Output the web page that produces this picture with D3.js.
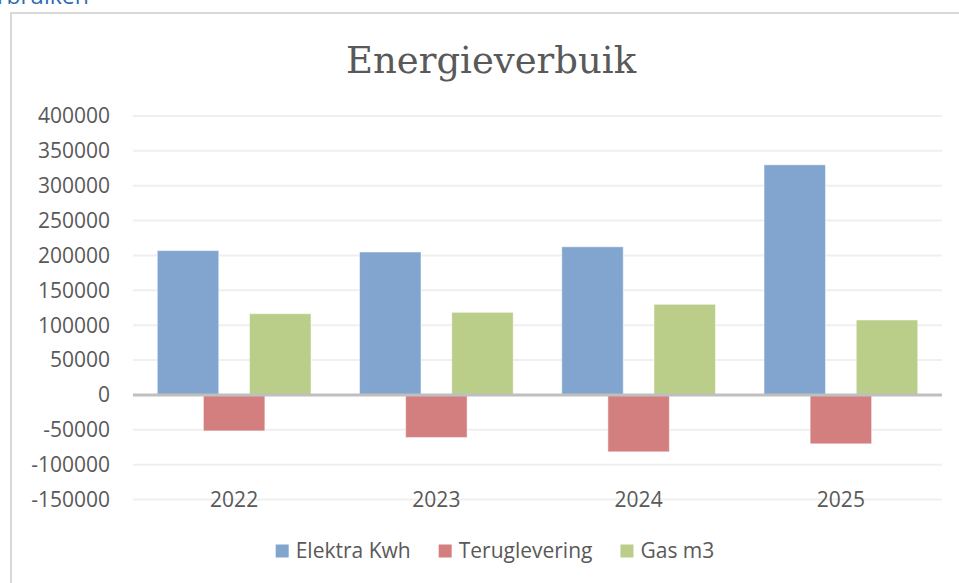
<!DOCTYPE html>
<meta charset="utf-8">
<script src="https://d3js.org/d3.v7.min.js"></script>
<style>
  body { margin: 0; background: #fff; }
  svg { display: block; }
</style>
<div id="vis"></div>
<script>

// data
var years = ["2022", "2023", "2024", "2025"]
var series = ["Elektra Kwh", "Teruglevering", "Gas m3"]
var elektra = [207000, 205000, 212500, 330000]
var teruglevering = [-51500, -61000, -81500, -70000]
var gas = [116500, 118500, 130000, 107500]
var yTicks = [-150000, -100000, -50000, 0, 50000, 100000, 150000, 200000, 250000, 300000, 350000, 400000]

var width = 959,
    height = 583

var colors = d3.scaleOrdinal()
  .domain(series)
  .range(["#81a5cf", "#d47f7f", "#bacd89"])

var values = [elektra, teruglevering, gas]
var rows = []
years.forEach(function(y, i) {
  series.forEach(function(s, j) {
    rows.push({year: y, key: s, value: values[j][i]})
  })
})

var svg = d3.select("#vis")
  .append("svg")
    .attr("width", width)
    .attr("height", height)

// piece of the page heading, cut off at the top
svg.append("text")
  .attr("x", -3)
  .attr("y", 4)
  .style("font-family", "Open Sans, sans-serif")
  .style("font-size", "23px")
  .style("fill", "#2e6cb0")
  .text("rbruiken")

// chart frame (runs off the right and bottom)
svg.append("rect")
  .attr("x", 11)
  .attr("y", 13)
  .attr("width", 980)
  .attr("height", 600)
  .attr("fill", "#fff")
  .attr("stroke", "#d9d9d9")
  .attr("stroke-width", 2)

svg.append("text")
  .attr("x", 491)
  .attr("y", 73)
  .attr("text-anchor", "middle")
  .style("font-family", "DejaVu Serif, serif")
  .style("font-size", "37px")
  .style("fill", "#595959")
  .text("Energieverbuik")

var x0 = d3.scaleBand()
  .domain(years)
  .range([133, 942])

var y = d3.scaleLinear()
  .domain([-150000, 400000])
  .range([499.6, 116])

var band = x0.bandwidth()
var barW = band * 0.304
var step = barW * 0.75
var x1 = d3.scalePoint()
  .domain(series)
  .range([0, 2 * step])
var offset = (band - (barW + 2 * step)) / 2

// gridlines
svg.append("g")
  .selectAll("line")
  .data(yTicks.filter(function(d) { return d !== 0 }))
  .enter()
  .append("line")
    .attr("x1", 133)
    .attr("x2", 942)
    .attr("y1", function(d) { return y(d) })
    .attr("y2", function(d) { return y(d) })
    .attr("stroke", "#efefef")
    .attr("stroke-width", 2)

// y labels
svg.append("g")
  .selectAll("text")
  .data(yTicks)
  .enter()
  .append("text")
    .attr("x", 110)
    .attr("y", function(d) { return y(d) })
    .attr("dy", "0.35em")
    .attr("text-anchor", "end")
    .style("font-family", "Open Sans, sans-serif")
    .style("font-size", "21px")
    .style("fill", "#595959")
    .text(function(d) { return d })

// x labels (low position)
svg.append("g")
  .selectAll("text")
  .data(years)
  .enter()
  .append("text")
    .attr("x", function(d) { return x0(d) + band / 2 })
    .attr("y", y(-150000))
    .attr("dy", "0.35em")
    .attr("text-anchor", "middle")
    .style("font-family", "Open Sans, sans-serif")
    .style("font-size", "21px")
    .style("fill", "#595959")
    .text(function(d) { return d })

// bars
svg.append("g")
  .selectAll("rect")
  .data(rows)
  .enter()
  .append("rect")
    .attr("x", function(d) { return x0(d.year) + offset + x1(d.key) })
    .attr("width", barW)
    .attr("y", function(d) { return y(Math.max(0, d.value)) })
    .attr("height", function(d) { return Math.abs(y(d.value) - y(0)) })
    .attr("fill", function(d) { return colors(d.key) })
    .attr("stroke", "#ffffff")
    .attr("stroke-opacity", 0.5)
    .attr("stroke-width", 1)

// zero line
svg.append("line")
  .attr("x1", 133)
  .attr("x2", 942)
  .attr("y1", y(0))
  .attr("y2", y(0))
  .attr("stroke", "#bfbfbf")
  .attr("stroke-width", 3)

// legend
var legend = svg.append("g")
var lx = 0
series.forEach(function(s, i) {
  var item = legend.append("g").attr("transform", "translate(" + lx + ",0)")
  item.append("rect")
    .attr("x", 0)
    .attr("y", -6.5)
    .attr("width", 13)
    .attr("height", 13)
    .attr("fill", colors(s))
  var t = item.append("text")
    .attr("x", 20)
    .attr("dy", "0.35em")
    .style("font-family", "Open Sans, sans-serif")
    .style("font-size", "21px")
    .style("fill", "#595959")
    .text(s)
  lx += 20 + t.node().getComputedTextLength() + 28
})
var lw = lx - 28
legend.attr("transform", "translate(" + (495 - lw / 2) + ",551)")

</script>
